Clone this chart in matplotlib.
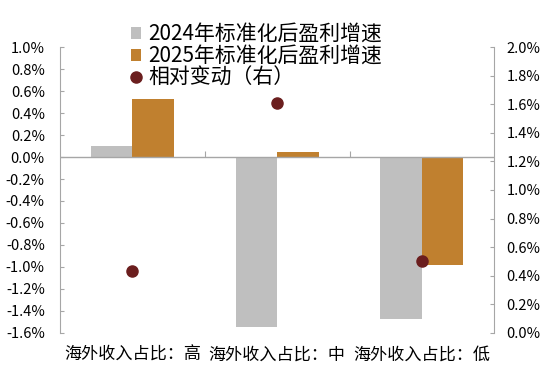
import matplotlib
matplotlib.use("Agg")
import matplotlib.pyplot as plt
import numpy as np
from matplotlib.ticker import FuncFormatter, MultipleLocator

plt.rcParams['font.family'] = ['Noto Sans CJK SC', 'DejaVu Sans']

categories = ['海外收入占比：高', '海外收入占比：中', '海外收入占比：低']
growth_2024 = [0.10, -1.55, -1.47]
growth_2025 = [0.53, 0.045, -0.98]
rel_change = [0.43, 1.61, 0.50]
labels = ['2024年标准化后盈利增速', '2025年标准化后盈利增速', '相对变动（右）']

grey = '#BFBFBF'
orange = '#C0802F'
dark = '#6B1E1E'
axis_c = '#A6A6A6'

fig = plt.figure(figsize=(5.51, 3.74), dpi=100)
ax = fig.add_axes([0.109, 0.110, 0.788, 0.764])
ax2 = ax.twinx()

x = np.arange(len(categories))
w = 0.287
b1 = ax.bar(x - w / 2, growth_2024, w, color=grey, zorder=2)
b2 = ax.bar(x + w / 2, growth_2025, w, color=orange, zorder=2)
ax.axhline(0, color=axis_c, lw=1, zorder=3)

ax.set_xlim(-0.5, 2.5)
ax.set_ylim(-1.6, 1.0)
ax.yaxis.set_major_locator(MultipleLocator(0.2))
ax.yaxis.set_major_formatter(FuncFormatter(lambda v, p: f"{v:.1f}%"))
ax.set_xticks(x)
ax.set_xticklabels(categories, fontsize=12.3)
ax.tick_params(axis='x', length=0, pad=9.5)
ax.tick_params(axis='y', direction='in', length=3, color=axis_c, labelsize=10.5, pad=11)
for s in ['top', 'bottom', 'right']:
    ax.spines[s].set_visible(False)
ax.spines['left'].set_color(axis_c)

# boundary ticks on the zero line
sec = ax.secondary_xaxis(1.6 / 2.6)
sec.set_xticks([0.5, 1.5], labels=['', ''])
sec.tick_params(axis='x', which='both', direction='out', length=4, color=axis_c,
                labeltop=False, labelbottom=False)
for s in sec.spines.values():
    s.set_visible(False)

dots, = ax2.plot(x, rel_change, 'o', color=dark, markersize=8, zorder=5)
ax2.set_ylim(0, 2.0)
ax2.yaxis.set_major_locator(MultipleLocator(0.2))
ax2.yaxis.set_major_formatter(FuncFormatter(lambda v, p: f"{v:.1f}%"))
ax2.tick_params(axis='y', direction='in', length=3, color=axis_c, labelsize=10.5, pad=9)
for s in ['top', 'bottom', 'left']:
    ax2.spines[s].set_visible(False)
ax2.spines['right'].set_color(axis_c)

fig.legend([b1, b2, dots], labels, loc='upper left', bbox_to_anchor=(0.218, 0.966),
           frameon=False, fontsize=15, handlelength=0.5, handleheight=0.5,
           handletextpad=0.35, labelspacing=0.0, borderpad=0)

fig.savefig('out.png', dpi=100)
